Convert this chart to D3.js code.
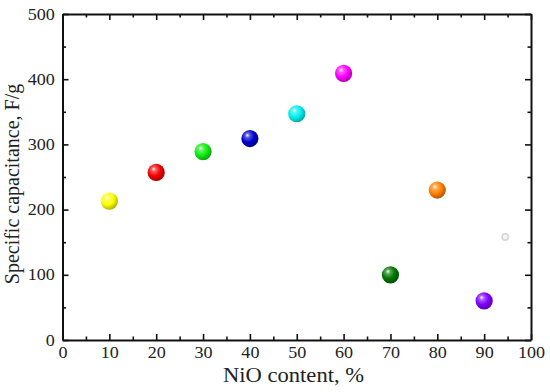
<!DOCTYPE html>
<html>
<head>
<meta charset="UTF-8">
<style>
  body { margin: 0; background: #fff; }
  text { font-family: "Liberation Serif", "Times New Roman", serif; fill: #222; }
</style>
</head>
<body>
<svg id="chart" width="550" height="392"></svg>
<script src="https://cdn.jsdelivr.net/npm/d3@7"></script>
<script>
// NiO content (%) vs specific capacitance (F/g)
var nioContent = [10, 20, 30, 40, 50, 60, 70, 80, 90];
var capacitance = [213, 257, 289, 309, 347, 409, 100, 230, 60];
var pointColors = ["#ffff00", "#f20000", "#11ee11", "#0000cc", "#00eeee", "#ff00ff", "#007700", "#ff7f00", "#8000ff"];
var faintPoint = [94.5, 158];
var xTicks = [0, 10, 20, 30, 40, 50, 60, 70, 80, 90, 100];
var yTicks = [0, 100, 200, 300, 400, 500];

var plotL = 62.5, plotR = 531, plotT = 14, plotB = 340;
var stretch = 1.13; // text in the picture is a bit wider than tall
var svg = d3.select("#chart");

var x = d3.scaleLinear().domain([0, 100]).range([plotL, plotR]);
var y = d3.scaleLinear().domain([0, 500]).range([plotB, plotT]);

// sphere gradients
var defs = svg.append("defs");
pointColors.forEach(function(c, i) {
    var g = defs.append("radialGradient").attr("id", "ball" + i)
        .attr("cx", "40%").attr("cy", "38%").attr("r", "62%")
        .attr("fx", "35%").attr("fy", "30%");
    g.append("stop").attr("offset", "0%").attr("stop-color", "#ffffff");
    g.append("stop").attr("offset", "22%").attr("stop-color", d3.interpolateRgb(c, "#fff")(0.35));
    g.append("stop").attr("offset", "60%").attr("stop-color", c);
    g.append("stop").attr("offset", "100%").attr("stop-color", d3.interpolateRgb(c, "#000")(0.3));
});

// axes with inward ticks (minor every 5)
var minorX = d3.range(5, 100, 10), minorY = d3.range(50, 500, 100);

function styleAxis(g) {
    g.select(".domain").attr("stroke", "#111").attr("stroke-width", 2);
    g.selectAll(".tick line").attr("stroke", "#111").attr("stroke-width", 1.6);
    g.selectAll(".tick text").attr("font-size", 16).attr("fill", "#222")
        .attr("transform", "scale(" + stretch + ",1)")
        .style("font-family", "'Liberation Serif', serif");
}

var xb = svg.append("g").attr("transform", "translate(0," + plotB + ")")
    .call(d3.axisBottom(x).tickValues(xTicks).tickSizeInner(-6).tickSizeOuter(0).tickPadding(7));
styleAxis(xb);
svg.append("g").attr("transform", "translate(0," + plotB + ")")
    .call(d3.axisBottom(x).tickValues(minorX).tickSize(-3.5).tickFormat(""))
    .call(styleAxis).select(".domain").remove();

var xt = svg.append("g").attr("transform", "translate(0," + plotT + ")")
    .call(d3.axisTop(x).tickValues(xTicks).tickSizeInner(-6).tickSizeOuter(0).tickFormat(""));
styleAxis(xt);
svg.append("g").attr("transform", "translate(0," + plotT + ")")
    .call(d3.axisTop(x).tickValues(minorX).tickSize(-3.5).tickFormat(""))
    .call(styleAxis).select(".domain").remove();

var yl = svg.append("g").attr("transform", "translate(" + plotL + ",0)")
    .call(d3.axisLeft(y).tickValues(yTicks).tickSizeInner(-6).tickSizeOuter(0).tickPadding(6.8));
styleAxis(yl);
svg.append("g").attr("transform", "translate(" + plotL + ",0)")
    .call(d3.axisLeft(y).tickValues(minorY).tickSize(-3.5).tickFormat(""))
    .call(styleAxis).select(".domain").remove();

var yr = svg.append("g").attr("transform", "translate(" + plotR + ",0)")
    .call(d3.axisRight(y).tickValues(yTicks).tickSizeInner(-6).tickSizeOuter(0).tickFormat(""));
styleAxis(yr);
svg.append("g").attr("transform", "translate(" + plotR + ",0)")
    .call(d3.axisRight(y).tickValues(minorY).tickSize(-3.5).tickFormat(""))
    .call(styleAxis).select(".domain").remove();

// axis titles
svg.append("text")
    .attr("transform", "translate(293.5,382) scale(" + stretch + ",1)")
    .attr("text-anchor", "middle").attr("font-size", 20).text("NiO content, %");
svg.append("text")
    .attr("transform", "translate(19,184) rotate(-90)")
    .attr("text-anchor", "middle").attr("font-size", 20).text("Specific capacitance, F/g");

// points
svg.append("g").selectAll("circle")
    .data(nioContent)
    .join("circle")
    .attr("cx", d => x(d))
    .attr("cy", (d, i) => y(capacitance[i]))
    .attr("r", 8.6)
    .attr("fill", (d, i) => "url(#ball" + i + ")");

svg.append("circle")
    .attr("cx", x(faintPoint[0])).attr("cy", y(faintPoint[1]))
    .attr("r", 3.2).attr("fill", "#f4f4f4")
    .attr("stroke", "#d6d6d6").attr("stroke-width", 1.6);
</script>
</body>
</html>
